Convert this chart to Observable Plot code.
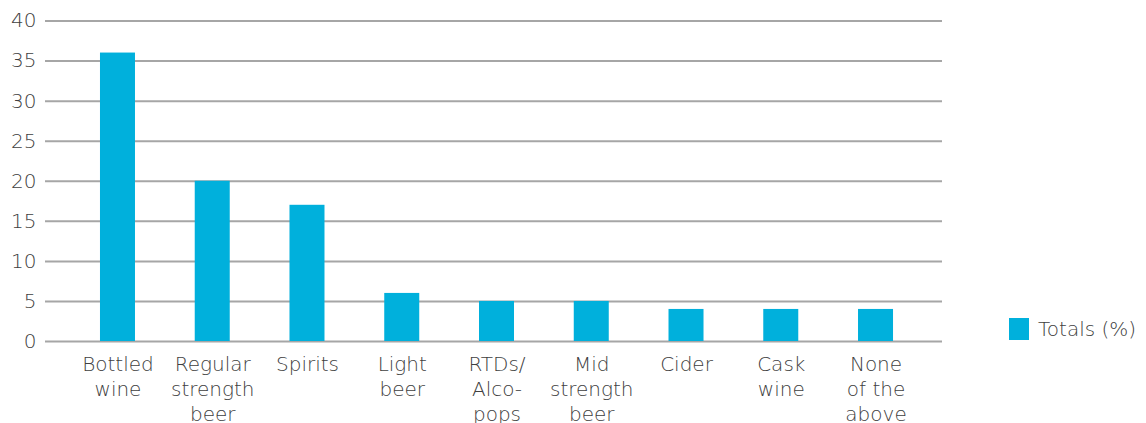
<!DOCTYPE html>
<html>
<head>
<meta charset="utf-8">
<script src="https://cdn.jsdelivr.net/npm/d3@7"></script>
<script src="https://cdn.jsdelivr.net/npm/@observablehq/plot@0.6"></script>
<style>
  html, body { margin: 0; padding: 0; background: #fff; }
  #wrap { position: relative; width: 1146px; height: 423px; overflow: hidden; font-family: "DejaVu Sans", sans-serif; font-weight: 200; }
  #legend { position: absolute; left: 1009px; top: 317px; display: flex; align-items: center; font-size: 20px; color: #404040; }
  #legend .sw { width: 20px; height: 22px; background: #00B0DC; margin-right: 9px; }
</style>
</head>
<body>
<div id="wrap"><div id="legend"><div class="sw"></div><span>Totals (%)</span></div></div>
<script>
const categories = ["Bottled wine", "Regular strength beer", "Spirits", "Light beer", "RTDs/ Alco-pops", "Mid strength beer", "Cider", "Cask wine", "None of the above"];
const tickLabels = ["Bottled\nwine", "Regular\nstrength\nbeer", "Spirits", "Light\nbeer", "RTDs/\nAlco-\npops", "Mid\nstrength\nbeer", "Cider", "Cask\nwine", "None\nof the\nabove"];
const totals = [36, 20, 17, 6, 5, 5, 4, 4, 4];
const yTicks = [0, 5, 10, 15, 20, 25, 30, 35, 40];

const data = categories.map((c, i) => ({category: c, value: totals[i]}));
const labelOf = new Map(categories.map((c, i) => [c, tickLabels[i]]));

const chart = Plot.plot({
  width: 1146,
  height: 423,
  marginLeft: 45,
  marginRight: 204,
  marginTop: 20.5,
  marginBottom: 82,
  style: {fontFamily: "'DejaVu Sans', sans-serif", fontWeight: 200, fontSize: "20px", color: "#404040", background: "transparent"},
  x: {domain: categories, range: [52.6, 940.4], paddingInner: 0.6306, paddingOuter: 0.5, round: false, label: null},
  y: {domain: [0, 40], label: null},
  marks: [
    Plot.ruleY(yTicks, {stroke: "#a6a6a6", strokeWidth: 2}),
    Plot.barY(data, {x: "category", y: "value", fill: "#00B0DC"}),
    Plot.axisY({ticks: yTicks, tickSize: 0, tickPadding: 9, fontSize: 20, label: null}),
    Plot.axisX({tickSize: 0, tickPadding: 12, fontSize: 20, lineHeight: 1.25, tickFormat: d => labelOf.get(d), label: null})
  ]
});
chart.style.position = "absolute";
chart.style.left = "0";
chart.style.top = "0";
document.getElementById("wrap").prepend(chart);
</script>
</body>
</html>
